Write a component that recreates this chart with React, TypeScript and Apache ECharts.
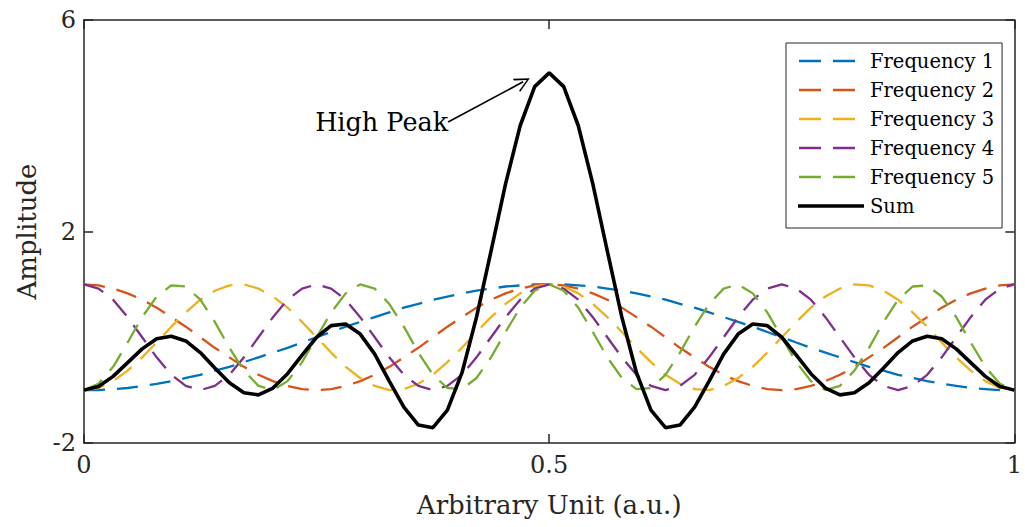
import React, { useEffect, useRef } from "react";
import * as echarts from "echarts";

// Sample positions (x = 0 .. 1, 65 samples)
const xValues = [
  0, 0.0156, 0.0313, 0.0469, 0.0625, 0.0781, 0.0938, 0.1094, 0.125, 0.1406, 0.1563, 0.1719, 0.1875,
  0.2031, 0.2188, 0.2344, 0.25, 0.2656, 0.2813, 0.2969, 0.3125, 0.3281, 0.3438, 0.3594, 0.375,
  0.3906, 0.4063, 0.4219, 0.4375, 0.4531, 0.4688, 0.4844, 0.5, 0.5156, 0.5313, 0.5469, 0.5625,
  0.5781, 0.5938, 0.6094, 0.625, 0.6406, 0.6563, 0.6719, 0.6875, 0.7031, 0.7188, 0.7344, 0.75,
  0.7656, 0.7813, 0.7969, 0.8125, 0.8281, 0.8438, 0.8594, 0.875, 0.8906, 0.9063, 0.9219, 0.9375,
  0.9531, 0.9688, 0.9844, 1,
];

const frequency1 = [
  -1, -1, -0.98, -0.96, -0.92, -0.88, -0.83, -0.77, -0.71, -0.63, -0.56, -0.47, -0.38, -0.29, -0.2, -0.1, 0,
  0.1, 0.2, 0.29, 0.38, 0.47, 0.56, 0.63, 0.71, 0.77, 0.83, 0.88, 0.92, 0.96, 0.98, 1, 1,
  1, 0.98, 0.96, 0.92, 0.88, 0.83, 0.77, 0.71, 0.63, 0.56, 0.47, 0.38, 0.29, 0.2, 0.1, 0,
  -0.1, -0.2, -0.29, -0.38, -0.47, -0.56, -0.63, -0.71, -0.77, -0.83, -0.88, -0.92, -0.96, -0.98, -1, -1,
];

const frequency2 = [
  1, 0.98, 0.92, 0.83, 0.71, 0.56, 0.38, 0.2, 0, -0.2, -0.38, -0.56, -0.71, -0.83, -0.92, -0.98, -1,
  -0.98, -0.92, -0.83, -0.71, -0.56, -0.38, -0.2, 0, 0.2, 0.38, 0.56, 0.71, 0.83, 0.92, 0.98, 1,
  0.98, 0.92, 0.83, 0.71, 0.56, 0.38, 0.2, 0, -0.2, -0.38, -0.56, -0.71, -0.83, -0.92, -0.98, -1,
  -0.98, -0.92, -0.83, -0.71, -0.56, -0.38, -0.2, 0, 0.2, 0.38, 0.56, 0.71, 0.83, 0.92, 0.98, 1,
];

const frequency3 = [
  -1, -0.96, -0.83, -0.63, -0.38, -0.1, 0.2, 0.47, 0.71, 0.88, 0.98, 1, 0.92, 0.77, 0.56, 0.29, 0,
  -0.29, -0.56, -0.77, -0.92, -1, -0.98, -0.88, -0.71, -0.47, -0.2, 0.1, 0.38, 0.63, 0.83, 0.96, 1,
  0.96, 0.83, 0.63, 0.38, 0.1, -0.2, -0.47, -0.71, -0.88, -0.98, -1, -0.92, -0.77, -0.56, -0.29, 0,
  0.29, 0.56, 0.77, 0.92, 1, 0.98, 0.88, 0.71, 0.47, 0.2, -0.1, -0.38, -0.63, -0.83, -0.96, -1,
];

const frequency4 = [
  1, 0.92, 0.71, 0.38, 0, -0.38, -0.71, -0.92, -1, -0.92, -0.71, -0.38, 0, 0.38, 0.71, 0.92, 1,
  0.92, 0.71, 0.38, 0, -0.38, -0.71, -0.92, -1, -0.92, -0.71, -0.38, 0, 0.38, 0.71, 0.92, 1,
  0.92, 0.71, 0.38, 0, -0.38, -0.71, -0.92, -1, -0.92, -0.71, -0.38, 0, 0.38, 0.71, 0.92, 1,
  0.92, 0.71, 0.38, 0, -0.38, -0.71, -0.92, -1, -0.92, -0.71, -0.38, 0, 0.38, 0.71, 0.92, 1,
];

const frequency5 = [
  -1, -0.88, -0.56, -0.1, 0.38, 0.77, 0.98, 0.96, 0.71, 0.29, -0.2, -0.63, -0.92, -1, -0.83, -0.47, 0,
  0.47, 0.83, 1, 0.92, 0.63, 0.2, -0.29, -0.71, -0.96, -0.98, -0.77, -0.38, 0.1, 0.56, 0.88, 1,
  0.88, 0.56, 0.1, -0.38, -0.77, -0.98, -0.96, -0.71, -0.29, 0.2, 0.63, 0.92, 1, 0.83, 0.47, 0,
  -0.47, -0.83, -1, -0.92, -0.63, -0.2, 0.29, 0.71, 0.96, 0.98, 0.77, 0.38, -0.1, -0.56, -0.88, -1,
];

const sumValues = [
  -1, -0.93, -0.74, -0.48, -0.22, -0.03, 0.02, -0.07, -0.29, -0.58, -0.86, -1.05, -1.09, -0.96, -0.69, -0.34, 0,
  0.22, 0.25, 0.06, -0.32, -0.83, -1.32, -1.66, -1.71, -1.38, -0.67, 0.38, 1.63, 2.9, 4, 4.74, 5,
  4.74, 4, 2.9, 1.63, 0.38, -0.67, -1.38, -1.71, -1.66, -1.32, -0.83, -0.32, 0.06, 0.25, 0.22, 0,
  -0.34, -0.69, -0.96, -1.09, -1.05, -0.86, -0.58, -0.29, -0.07, 0.02, -0.03, -0.22, -0.48, -0.74, -0.93, -1,
];

const seriesNames = ["Frequency 1", "Frequency 2", "Frequency 3", "Frequency 4", "Frequency 5", "Sum"];
const seriesColors = ["#0072BD", "#D95319", "#EDB120", "#7E2F8E", "#77AC30", "#000000"];

const xLabel = "Arbitrary Unit (a.u.)";
const yLabel = "Amplitude";
const annotationText = "High Peak";
const arrowStart = [0.3914, 4.07];
const arrowEnd = [0.472, 4.83];

const FONT = "DejaVu Serif";
const AXIS_COLOR = "#262626";

// Legend icons: dashed / solid line glyphs (bounding box 66 x 14, corner specks keep the box)
const DASH_ICON =
  "path://M0,0 L0.01,0 L0,0.01 Z M1,5.8 L23,5.8 L23,8.2 L1,8.2 Z M35,5.8 L57,5.8 L57,8.2 L35,8.2 Z M65.99,14 L66,14 L66,13.99 Z";
const SOLID_ICON =
  "path://M0,0 L0.01,0 L0,0.01 Z M0,5.2 L66,5.2 L66,8.8 L0,8.8 Z M65.99,14 L66,14 L66,13.99 Z";

export default function App() {
  const ref = useRef<HTMLDivElement>(null);

  useEffect(() => {
    if (!ref.current) return;
    const chart = echarts.init(ref.current, undefined, { renderer: "svg" });
    const allValues = [frequency1, frequency2, frequency3, frequency4, frequency5, sumValues];

    const series: any[] = allValues.map((vals, si) => {
      const isSum = si === 5;
      const s: any = {
        name: seriesNames[si],
        type: "line",
        data: xValues.map((x, i) => [x, vals[i]]),
        symbol: "none",
        smooth: false,
        color: seriesColors[si],
        lineStyle: isSum
          ? { color: seriesColors[si], width: 3.6, type: "solid" }
          : { color: seriesColors[si], width: 2.3, type: [21, 12] },
        z: isSum ? 5 : 3,
        silent: true,
      };
      if (isSum) {
        s.markLine = {
          silent: true,
          symbol: ["none", "path://M50,0 L100,100 L88,100 L50,22 L12,100 L0,100 Z"],
          symbolSize: 15,
          lineStyle: { color: "#000", width: 1.7, type: "solid" },
          label: { show: false },
          data: [[{ coord: arrowStart }, { coord: arrowEnd }]],
        };
        s.markPoint = {
          silent: true,
          symbol: "circle",
          symbolSize: 0,
          data: [
            {
              coord: arrowStart,
              label: {
                show: true,
                position: "left",
                distance: 0,
                formatter: annotationText,
                fontFamily: FONT,
                fontSize: 25.5,
                color: "#000",
              },
            },
          ],
        };
      }
      return s;
    });

    const option: any = {
      animation: false,
      backgroundColor: "#fff",
      textStyle: { fontFamily: FONT },
      grid: { left: 84, right: 6, top: 20, bottom: 84, containLabel: false },
      legend: {
        orient: "vertical",
        left: 786,
        top: 43,
        padding: [8, 8, 12, 12],
        itemWidth: 66,
        itemHeight: 14,
        itemGap: 9,
        symbolKeepAspect: false,
        borderColor: AXIS_COLOR,
        borderWidth: 1,
        backgroundColor: "#fff",
        selectedMode: false,
        data: seriesNames.map((n, i) => ({
          name: n,
          icon: i === 5 ? SOLID_ICON : DASH_ICON,
          itemStyle: { color: seriesColors[i], borderWidth: 0 },
        })),
        textStyle: {
          fontFamily: FONT,
          fontSize: 19.5,
          color: "#000",
          lineHeight: 14,
          padding: [0, 0, 0, 1],
        },
      },
      xAxis: [
        {
          type: "value",
          min: 0,
          max: 1,
          interval: 0.5,
          position: "bottom",
          name: xLabel,
          nameLocation: "middle",
          nameGap: 49,
          nameTextStyle: { fontFamily: FONT, fontSize: 26, color: "#262626" },
          axisLine: { show: true, onZero: false, lineStyle: { color: AXIS_COLOR, width: 1.5 } },
          axisTick: { show: true, inside: true, length: 9, lineStyle: { color: AXIS_COLOR, width: 1.5 } },
          axisLabel: { show: true, margin: 10, fontFamily: FONT, fontSize: 24, color: "#262626" },
          splitLine: { show: false },
        },
        {
          type: "value",
          min: 0,
          max: 1,
          interval: 0.5,
          position: "top",
          axisLine: { show: true, onZero: false, lineStyle: { color: AXIS_COLOR, width: 1.5 } },
          axisTick: { show: true, inside: true, length: 9, lineStyle: { color: AXIS_COLOR, width: 1.5 } },
          axisLabel: { show: false },
          splitLine: { show: false },
        },
      ],
      yAxis: [
        {
          type: "value",
          min: -2,
          max: 6,
          interval: 4,
          position: "left",
          name: yLabel,
          nameLocation: "middle",
          nameGap: 44,
          nameTextStyle: { fontFamily: FONT, fontSize: 26, color: "#262626" },
          axisLine: { show: true, onZero: false, lineStyle: { color: AXIS_COLOR, width: 1.5 } },
          axisTick: { show: true, inside: true, length: 9, lineStyle: { color: AXIS_COLOR, width: 1.5 } },
          axisLabel: { show: true, margin: 8, fontFamily: FONT, fontSize: 24, color: "#262626" },
          splitLine: { show: false },
        },
        {
          type: "value",
          min: -2,
          max: 6,
          interval: 4,
          position: "right",
          axisLine: { show: true, onZero: false, lineStyle: { color: AXIS_COLOR, width: 1.5 } },
          axisTick: { show: true, inside: true, length: 9, lineStyle: { color: AXIS_COLOR, width: 1.5 } },
          axisLabel: { show: false },
          splitLine: { show: false },
        },
      ],
      series,
    };

    chart.setOption(option);
    return () => chart.dispose();
  }, []);

  return (
    <div
      ref={ref}
      style={{ position: "fixed", left: 0, top: 0, width: 1025, height: 527, background: "#fff" }}
    />
  );
}
